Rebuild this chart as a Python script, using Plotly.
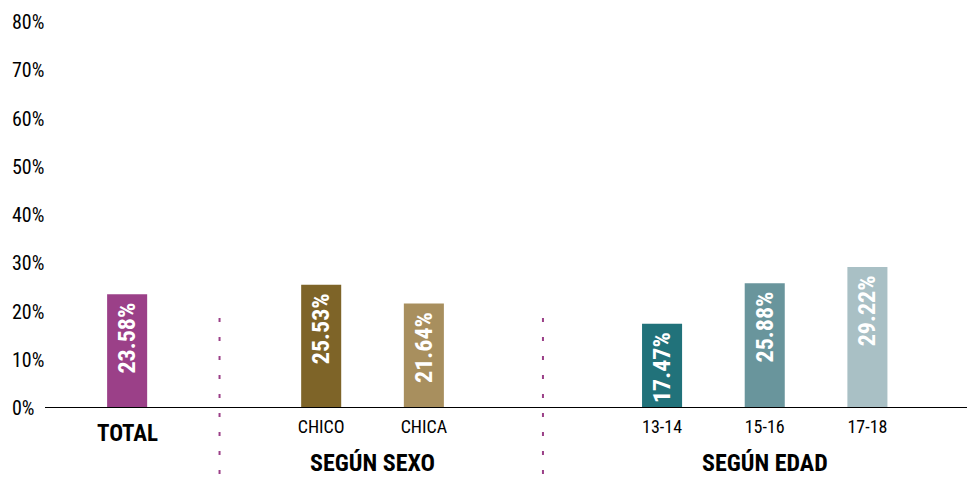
import plotly.graph_objects as go

categories = ["TOTAL", "CHICO", "CHICA", "13-14", "15-16", "17-18"]
values = [23.58, 25.53, 21.64, 17.47, 25.88, 29.22]
groups = ["", "SEGÚN SEXO", "SEGÚN SEXO", "SEGÚN EDAD", "SEGÚN EDAD", "SEGÚN EDAD"]
colors = ["#9B4088", "#7E6428", "#A88F5E", "#21727A", "#69959C", "#A9C0C5"]
y_ticks = [0, 10, 20, 30, 40, 50, 60, 70, 80]

# slot positions (layout): bars one unit apart within a group
positions = [0, 1.89, 2.89, 5.21, 6.21, 7.21]
dividers = [0.9, 4.05]

FONT = "Roboto Condensed, Open Sans Condensed, sans-serif"

fig = go.Figure()
fig.add_trace(go.Bar(
    x=positions, y=values, width=0.39,
    marker=dict(color=colors, line=dict(width=0)),
    text=[f"<b>{v:.2f}%</b>\u00a0" for v in values],
    textposition="inside", insidetextanchor="end", textangle=-90,
    textfont=dict(family=FONT, size=24, color="white"),
    cliponaxis=False, hoverinfo="skip",
))

# TOTAL is drawn as its own (larger, bold) annotation below
ticktext = ["" if c == "TOTAL" else c for c in categories]

fig.update_layout(
    width=967, height=477,
    margin=dict(l=45, r=0, t=22, b=69),
    paper_bgcolor="white", plot_bgcolor="white",
    showlegend=False,
    font=dict(family=FONT, size=18, color="#000"),
    xaxis=dict(range=[-0.8, 8.18], tickvals=positions, ticktext=ticktext,
               showgrid=False, zeroline=False, showline=False, ticks="",
               tickfont=dict(size=18, color="#000"), ticklabelstandoff=6),
    yaxis=dict(range=[0, 80], showgrid=False, zeroline=False, showline=False,
               showticklabels=False, ticks=""),
)

for p, c in zip(positions, categories):
    if c == "TOTAL":
        fig.add_annotation(xref="x", yref="paper", x=p, y=-0.066, text=f"<b>{c}</b>",
                           showarrow=False, xanchor="center", yanchor="middle",
                           font=dict(size=23, color="#000"))

# x axis baseline
fig.add_shape(type="line", xref="paper", yref="y", x0=0, x1=1, y0=0, y1=0,
              line=dict(color="#000", width=2))

# y tick labels, left aligned
for t in y_ticks:
    fig.add_annotation(xref="paper", yref="y", x=-0.038, y=t, text=f"{t}%",
                       showarrow=False, xanchor="left", yanchor="middle",
                       font=dict(size=20, color="#000"))

# dotted dividers
for d in dividers:
    fig.add_shape(type="line", xref="x", yref="paper", x0=d, x1=d, y0=0.233, y1=-0.179,
                  line=dict(color="#9B4088", width=2, dash="4px,15px"))

# group labels
for g in ["SEGÚN SEXO", "SEGÚN EDAD"]:
    xs = [p for p, gg in zip(positions, groups) if gg == g]
    fig.add_annotation(xref="x", yref="paper", x=sum(xs) / len(xs), y=-0.142,
                       text=f"<b>{g}</b>", showarrow=False, xanchor="center",
                       yanchor="middle", font=dict(size=24, color="#000"))

fig.write_html(
    "out.html",
    config={"displayModeBar": False},
    post_script="document.body.style.margin='0';document.body.style.overflow='hidden';",
)
